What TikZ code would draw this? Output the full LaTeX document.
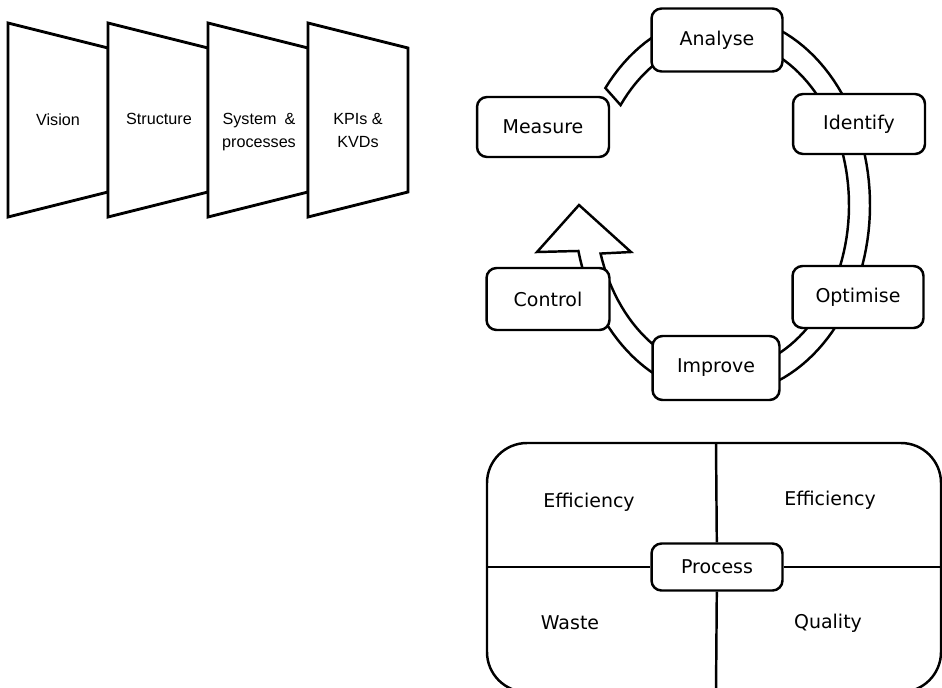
\documentclass[tikz,border=0pt]{standalone}
\usepackage{fontspec}
\setmainfont{DejaVu Sans}
\newfontfamily\panelfont{Liberation Sans}
\tikzset{
  panelbox/.style={draw, fill=white, line width=1.6pt, line join=miter},
  paneltext/.style={font=\panelfont\fontsize{9.2}{13}\selectfont, align=center, anchor=north, inner sep=0pt},
  stage/.style={draw, fill=white, rounded corners=0.2cm, line width=1.4pt,
    minimum width=2.62cm, minimum height=1.22cm, inner sep=0pt,
    font=\fontsize{10.8}{13}\selectfont},
  band/.style={draw, fill=white, line width=1.4pt, line join=miter},
  quadline/.style={draw, line width=1.4pt},
  quadtext/.style={font=\fontsize{10.8}{13}\selectfont},
}
\begin{document}
\begin{tikzpicture}[x=0.02cm, y=-0.02cm]
      \useasboundingbox (0,0) rectangle (942,687);
      % strategy panels
      \draw[panelbox] (8,23) -- (108,48) -- (108,192) -- (8,217) -- cycle;
      \draw[panelbox] (108,23) -- (208,48) -- (208,192) -- (108,217) -- cycle;
      \draw[panelbox] (208,23) -- (308,48) -- (308,192) -- (208,217) -- cycle;
      \draw[panelbox] (308,23) -- (408,48) -- (408,192) -- (308,217) -- cycle;
      \node[paneltext] (vision) at (58,113) {Vision};
      \node[paneltext] (structure) at (159,113) {Structure};
      \node[paneltext] (systems) at (259,113) {System\enspace\&\\processes};
      \node[paneltext] (kpis) at (358,113) {KPIs \&\\KVDs};
      % improvement cycle
      \draw[band] plot[domain=218:526, samples=120] ({722+148*cos(\x)},{205+190*sin(\x)})
        -- (537,252) -- (579,205) -- (631,252)
        -- plot[domain=523:217, samples=120] ({722+127*cos(\x)},{205+166*sin(\x)}) -- cycle;
      \node[stage, minimum height=1.26cm] (analyse) at (717,40) {Analyse};
      \node[stage, minimum width=2.64cm, minimum height=1.2cm] (identify) at (859,124) {Identify};
      \node[stage, minimum width=2.64cm, minimum height=1.2cm] (measure) at (543,127) {Measure};
      \node[stage, minimum height=1.24cm] (optimise) at (858,297) {Optimise};
      \node[stage, minimum width=2.54cm, minimum height=1.28cm] (improve) at (716,368) {Improve};
      \node[stage, minimum width=2.46cm, minimum height=1.24cm] (control) at (548,299) {Control};
      % process quadrants
      \begin{scope}
        \clip (0,0) rectangle (942,687);
        \draw[quadline, rounded corners=0.8cm] (487,443) rectangle (941,692);
        \node[stage, minimum height=0.94cm] (process) at (717,567) {Process};
        \coordinate (qtop) at (716,443);
        \coordinate (qbottom) at (716,692);
        \coordinate (qleft) at (487,567);
        \coordinate (qright) at (941,567);
        \draw[quadline] (qtop) -- (process);
        \draw[quadline] (process) -- (qbottom);
        \draw[quadline] (qleft) -- (process);
        \draw[quadline] (process) -- (qright);
      \end{scope}
      \node[quadtext] (effleft) at (589,502) {Efficiency};
      \node[quadtext] (effright) at (830,500) {Efficiency};
      \node[quadtext] (waste) at (570,623) {Waste};
      \node[quadtext] (quality) at (828,623) {Quality};
    \end{tikzpicture}
\end{document}
